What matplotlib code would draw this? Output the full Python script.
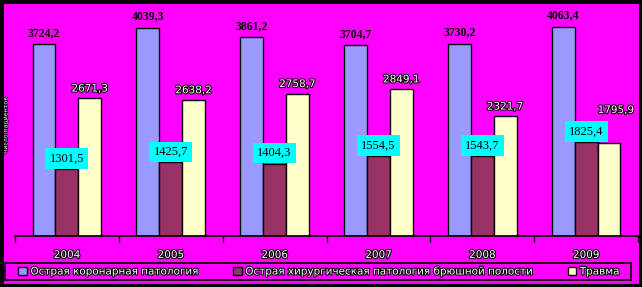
import matplotlib
matplotlib.use("Agg")
import matplotlib.pyplot as plt
import matplotlib.patheffects as pe
from matplotlib.patches import Rectangle
import numpy as np

years = ["2004", "2005", "2006", "2007", "2008", "2009"]
coronary = [3724.2, 4039.3, 3861.2, 3704.7, 3730.2, 4063.4]
abdominal = [1301.5, 1425.7, 1404.3, 1554.5, 1543.7, 1825.4]
trauma = [2671.3, 2638.2, 2758.7, 2849.1, 2321.7, 1795.9]
coronary_lbl = ["3724,2", "4039,3", "3861,2", "3704,7", "3730,2", "4063,4"]
abdominal_lbl = ["1301,5", "1425,7", "1404,3", "1554,5", "1543,7", "1825,4"]
trauma_lbl = ["2671,3", "2638,2", "2758,7", "2849,1", "2321,7", "1795,9"]
series_names = ["Острая коронарная патология",
                "Острая хирургическая патология брюшной полости",
                "Травма"]
ylabel = "число пациентов"

MAG = "#FF00FF"
BLUE = "#9999FF"
MAROON = "#993366"
YELLOW = "#FFFFCC"
CYAN = "#00FFFF"

W, H = 642, 287
fig = plt.figure(figsize=(W / 100, H / 100), dpi=100, facecolor=MAG)

ax_l, ax_r, ax_t, ax_b = 15, 638, 4, 236
ax = fig.add_axes([ax_l / W, 1 - ax_b / H, (ax_r - ax_l) / W, (ax_b - ax_t) / H])
ax.set_facecolor(MAG)

x = np.arange(len(years))
bw = 0.22
outline = dict(edgecolor="black", linewidth=1.0)
b1 = ax.bar(x - bw, coronary, bw, color=BLUE, **outline)
b2 = ax.bar(x, abdominal, bw, color=MAROON, **outline)
b3 = ax.bar(x + bw, trauma, bw, color=YELLOW, **outline)

ax.set_xlim(-0.5, len(years) - 0.5)
ax.set_ylim(0, 4500)

for s in ["top", "right", "left"]:
    ax.spines[s].set_visible(False)
ax.spines["bottom"].set_linewidth(1.2)
ax.set_yticks([])
ax.set_xticks(x)
ax.set_xticks(np.arange(len(years) + 1) - 0.5, minor=True)
ax.tick_params(axis="x", which="major", length=0, pad=10)
ax.tick_params(axis="x", which="minor", length=4, width=1.0, direction="out")
ax.set_xticklabels(years, fontsize=7.5, color="white",
                   path_effects=[pe.withStroke(linewidth=1.6, foreground="black")])

stroke_w = [pe.withStroke(linewidth=1.5, foreground="black")]

for i in range(len(years)):
    ax.annotate(coronary_lbl[i], (x[i] - bw, coronary[i]), xytext=(0, 8),
                textcoords="offset points", ha="center", va="center",
                fontsize=8.5, fontweight="bold", color="black",
                family="Liberation Serif")
    off = 24 if i == len(years) - 1 else 7
    dx = 5 if i == len(years) - 1 else 0
    ax.annotate(trauma_lbl[i], (x[i] + bw, trauma[i]), xytext=(dx, off),
                textcoords="offset points", ha="center", va="center",
                fontsize=7.5, color="white", path_effects=stroke_w)
    ax.annotate(abdominal_lbl[i], (x[i], abdominal[i]), xytext=(0, 7.6),
                textcoords="offset points", ha="center", va="center",
                fontsize=9, color="black", family="Liberation Serif",
                bbox=dict(boxstyle="square,pad=0.35", facecolor=CYAN,
                          edgecolor="none"))

fig.text(6 / W, 1 - 125 / H, ylabel, rotation=90, fontsize=4.5,
         color="white", ha="center", va="center",
         path_effects=[pe.withStroke(linewidth=1, foreground="black")])

# legend box
lx0, lx1, ly0, ly1 = 5, 631, 263, 280
fig.patches.append(Rectangle((lx0 / W, 1 - ly1 / H), (lx1 - lx0) / W, (ly1 - ly0) / H,
                             transform=fig.transFigure, facecolor=MAG,
                             edgecolor="black", linewidth=1.2, zorder=1))
leg = fig.legend([b1, b2, b3], series_names, loc="center",
                 bbox_to_anchor=((lx0 + lx1) / 2 / W + 1 / W, 1 - (ly0 + ly1) / 2 / H),
                 ncol=3, frameon=False, fontsize=7.5,
                 handlelength=0.8, handleheight=0.8, handletextpad=0.35,
                 columnspacing=3.3, borderpad=0.0, borderaxespad=0)
leg.set_zorder(5)
for t in leg.get_texts():
    t.set_color("white")
    t.set_path_effects([pe.withStroke(linewidth=1.5, foreground="black")])

bt = 3.5
for (x0, y0, w, h) in [(0, 0, bt, H), (0, H - bt, W, bt), (W - bt, 0, bt, H),
                       (0, 0, W, bt)]:
    fig.patches.append(Rectangle((x0 / W, y0 / H), w / W, h / H,
                                 transform=fig.transFigure, facecolor="black",
                                 edgecolor="none", zorder=10))

fig.savefig("out.png", dpi=100, facecolor=MAG)
